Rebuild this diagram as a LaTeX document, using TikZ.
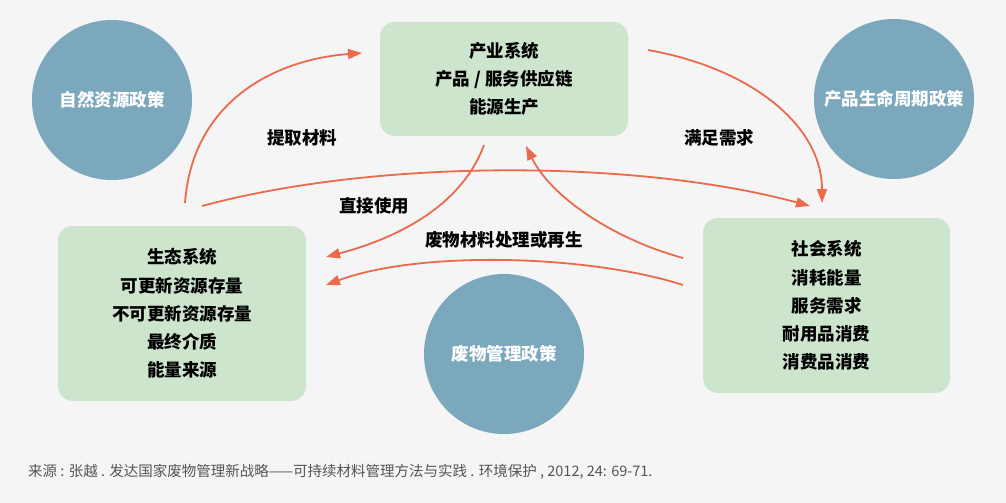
\documentclass[tikz,border=0pt]{standalone}
\usepackage{fontspec}
\setmainfont{Noto Sans CJK SC}
\usetikzlibrary{arrows.meta}
\definecolor{bgc}{HTML}{F5F5F5}
\definecolor{circc}{HTML}{7BA8BD}
\definecolor{boxc}{HTML}{CDE4CD}
\definecolor{arrc}{HTML}{EC6A4C}
\definecolor{capc}{HTML}{555555}
\tikzset{
  policy/.style={circle, fill=circc, minimum size=160pt, inner sep=0pt, text=white, font=\fontsize{17.5}{20}\selectfont\bfseries},
  sysbox/.style={rounded corners=15pt, fill=boxc, inner sep=0pt, align=center, font=\fontsize{17.5}{28.2}\selectfont\bfseries},
  lbl/.style={font=\fontsize{17.5}{20}\selectfont\bfseries, inner sep=0pt},
  flow/.style={draw=arrc, line width=1.8pt, -{Triangle[length=14pt,width=10pt]}},
}
\begin{document}
\begin{tikzpicture}[x=1pt,y=-1pt]
\fill[bgc] (0,0) rectangle (1006,503);
\useasboundingbox (0,0) rectangle (1006,503);
% policy circles
\node[policy] (nat) at (112,100) {自然资源政策};
\node[policy] (life) at (894,99) {产品生命周期政策};
\node[policy] (waste) at (504,354) {废物管理政策};
% system boxes
\node[sysbox, minimum width=248pt, minimum height=114pt] (ind) at (504,79) {产业系统\\产品 / 服务供应链\\能源生产};
\node[sysbox, minimum width=248pt, minimum height=175pt] (eco) at (182,313.5) {生态系统\\可更新资源存量\\不可更新资源存量\\最终介质\\能量来源};
\node[sysbox, minimum width=247pt, minimum height=175pt] (soc) at (826.5,305.5) {社会系统\\消耗能量\\服务需求\\耐用品消费\\消费品消费};
% labels
\node[lbl] (l1) at (302,138) {提取材料};
\node[lbl] (l2) at (719,138) {满足需求};
\node[lbl] (l3) at (374,206) {直接使用};
\node[lbl] (l4) at (504,240) {废物材料处理或再生};
% connector end points
\coordinate (a1s) at (185,203);
\coordinate (a1e) at (362,53);
\coordinate (a2s) at (648,50);
\coordinate (a2e) at (822,203);
\coordinate (a3s) at (202,206);
\coordinate (a3e) at (810,206);
\coordinate (a4s) at (484,145);
\coordinate (a4e) at (326,257);
\coordinate (a5s) at (683,258);
\coordinate (a5e) at (526,146);
\coordinate (a6s) at (683,285);
\coordinate (a6e) at (326,285);
% connectors
\draw[flow] (a1s) .. controls (192,105) and (270,60) .. (a1e);
\draw[flow] (a2s) .. controls (750,68) and (822,125) .. (a2e);
\draw[flow] (a3s) .. controls (380,158) and (640,160) .. (a3e);
\draw[flow] (a4s) .. controls (460,210) and (390,240) .. (a4e);
\draw[flow] (a5s) .. controls (610,238) and (550,195) .. (a5e);
\draw[flow] (a6s) .. controls (590,255) and (420,250) .. (a6e);
% caption
\node[anchor=west, inner sep=0pt, text=capc, font=\fontsize{14.5}{16}\selectfont] (cap) at (28,472) {来源 : 张越 . 发达国家废物管理新战略——可持续材料管理方法与实践 . 环境保护 , 2012, 24: 69-71.};
\end{tikzpicture}
\end{document}
